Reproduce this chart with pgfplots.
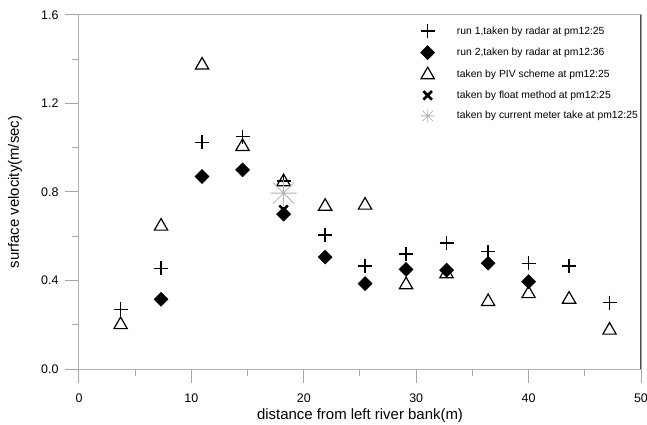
\documentclass[border=0pt]{standalone}
\usepackage{fontspec}
\setmainfont{Liberation Sans}
\usepackage{pgfplots}
\pgfplotsset{compat=1.18}
\pgfdeclareplotmark{ast8}{%
  \pgfpathmoveto{\pgfqpoint{-\pgfplotmarksize}{0pt}}\pgfpathlineto{\pgfqpoint{\pgfplotmarksize}{0pt}}%
  \pgfpathmoveto{\pgfqpoint{0pt}{-\pgfplotmarksize}}\pgfpathlineto{\pgfqpoint{0pt}{\pgfplotmarksize}}%
  \pgfpathmoveto{\pgfqpoint{-0.8\pgfplotmarksize}{-0.8\pgfplotmarksize}}\pgfpathlineto{\pgfqpoint{0.8\pgfplotmarksize}{0.8\pgfplotmarksize}}%
  \pgfpathmoveto{\pgfqpoint{-0.8\pgfplotmarksize}{0.8\pgfplotmarksize}}\pgfpathlineto{\pgfqpoint{0.8\pgfplotmarksize}{-0.8\pgfplotmarksize}}%
  \pgfusepathqstroke}
\begin{document}
\begin{tikzpicture}
\begin{axis}[
  scale only axis,
  width=562bp, height=354bp,
  xmin=0, xmax=50, ymin=0, ymax=1.6,
  xtick={0,10,20,30,40,50},
  minor xtick={5,15,25,35,45},
  ytick={0,0.4,0.8,1.2,1.6},
  minor ytick={0.2,0.6,1.0,1.4},
  xtick pos=left, ytick pos=left,
  tick align=outside,
  xtick align=outside, ytick align=outside,
  major tick length=14bp, minor tick length=7bp,
  axis line style={draw=gray!60, line width=1bp},
  tick style={draw=gray!70, line width=1bp},
  tick label style={font=\fontsize{12.5}{14}\selectfont, black, /pgf/number format/assume math mode=true},
  xticklabel style={yshift=-7bp},
  yticklabel style={/pgf/number format/fixed, /pgf/number format/fixed zerofill, /pgf/number format/precision=1, xshift=-3bp},
  xlabel={distance from left river bank(m)},
  ylabel={surface velocity(m/sec)},
  label style={font=\fontsize{15}{18}\selectfont},
  xlabel style={at={(rel axis cs:0.5,0)}, anchor=base, yshift=-50bp},
  ylabel style={at={(rel axis cs:0,0.5)}, anchor=center, yshift=64bp},
  legend style={at={(rel axis cs:0.600,0.975)}, anchor=north west, draw=none, fill=none,
    font=\fontsize{10.4}{12}\selectfont, row sep=7.5bp, inner sep=0pt},
  legend cell align=left,
  legend image code/.code={\path (0bp,0bp) (36bp,0bp);\draw[mark repeat=2,mark phase=2,#1] plot coordinates {(0bp,0bp) (10bp,0bp) (33bp,0bp)};},
]
\addplot[only marks, mark=+, mark size=7bp, line width=1.4bp, black] coordinates {
(3.7,0.27) (7.3,0.455) (10.95,1.025) (14.55,1.05) (18.2,0.85) (21.9,0.605) (25.45,0.465) (29.1,0.52) (32.7,0.57) (36.4,0.53) (40,0.478) (43.6,0.465) (47.2,0.30)};
\addlegendentry{run 1,taken by radar at pm12:25}
\addplot[only marks, mark=square*, mark size=5bp, mark options={rotate=45}, black] coordinates {
(7.3,0.315) (10.95,0.87) (14.55,0.90) (18.2,0.70) (21.9,0.506) (25.45,0.386) (29.1,0.45) (32.7,0.447) (36.4,0.478) (40,0.395)};
\addlegendentry{run 2,taken by radar at pm12:36}
\addplot[only marks, mark=triangle, mark size=7.7bp, line width=1.2bp, black] coordinates {
(3.7,0.20) (7.3,0.645) (10.95,1.373) (14.55,1.005) (18.2,0.846) (21.9,0.735) (25.45,0.74) (29.1,0.38) (32.7,0.43) (36.4,0.304) (40,0.34) (43.6,0.315) (47.2,0.175)};
\addlegendentry{taken by PIV scheme at pm12:25}
\addplot[only marks, mark=x, mark size=6bp, line width=2.6bp, black] coordinates {(18.2,0.72)};
\addlegendentry{taken by float method at pm12:25}
\addplot[only marks, mark=ast8, mark size=13bp, line width=0.8bp, gray!60, legend image post style={mark size=6.5bp}] coordinates {(18.2,0.795)};
\addlegendentry{taken by current meter take at pm12:25}
\draw[black!70, line width=1.2bp] (rel axis cs:1,0) -- (rel axis cs:1,1);
\end{axis}
\pgfresetboundingbox
\path[use as bounding box] (current axis.south west) ++(-79bp,-56bp) rectangle ++(647bp,425bp);
\end{tikzpicture}
\end{document}
